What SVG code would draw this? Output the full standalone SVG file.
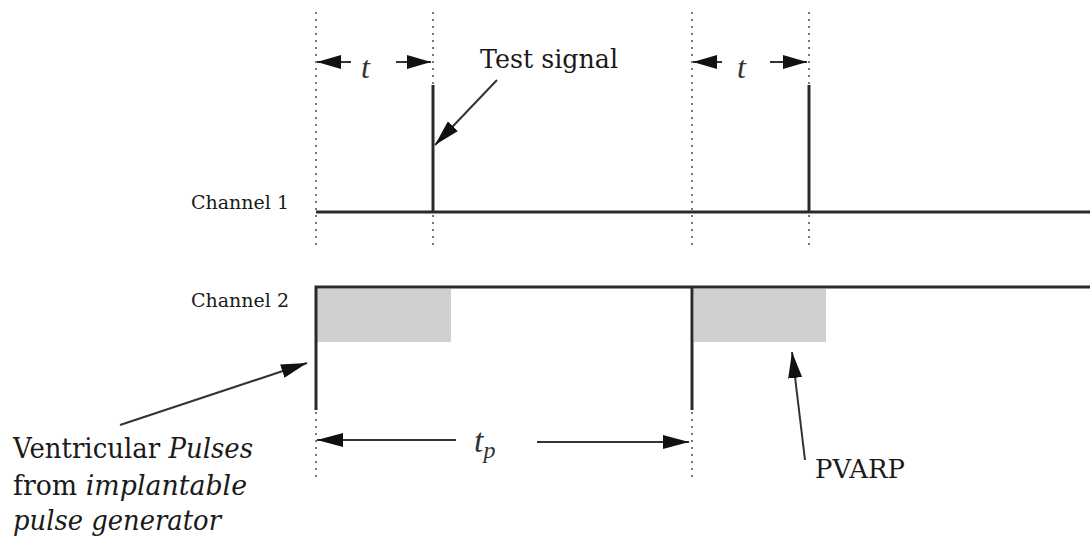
<svg xmlns="http://www.w3.org/2000/svg" width="1090" height="540" viewBox="0 0 1090 540">
<defs>
<style>
.dot{stroke:#777;stroke-width:2;stroke-dasharray:2 5;fill:none}
.sig{stroke:#2a2a2a;stroke-width:3;fill:none}
.arr{stroke:#333;stroke-width:2;fill:none}
.shade{fill:#d0d0d2}
.lbl{font-family:"DejaVu Serif","Liberation Serif",serif;fill:#1a1a1a}
.it{font-style:italic}
.tt{font-family:"Liberation Serif","DejaVu Serif",serif;font-style:italic;fill:#333}
</style>
<marker id="ah" viewBox="0 0 26 14" refX="26" refY="7" markerWidth="26" markerHeight="14" markerUnits="userSpaceOnUse" orient="auto">
<path d="M0,0 L26,7 L0,14 z" fill="#111"/>
</marker>
<marker id="aht" viewBox="0 0 24 14" refX="24" refY="7" markerWidth="24" markerHeight="14" markerUnits="userSpaceOnUse" orient="auto">
<path d="M0,0 L24,7 L0,14 z" fill="#111"/>
</marker>
</defs>
<g id="guides">
<line class="dot" x1="316" y1="12" x2="316" y2="250"/>
<line class="dot" x1="433" y1="12" x2="433" y2="250"/>
<line class="dot" x1="692" y1="12" x2="692" y2="250"/>
<line class="dot" x1="809" y1="12" x2="809" y2="250"/>
<line class="dot" x1="316" y1="412" x2="316" y2="482"/>
<line class="dot" x1="692" y1="412" x2="692" y2="482"/>
</g>
<g id="pvarp-shading">
<rect class="shade" x="317" y="289" width="134" height="53"/>
<rect class="shade" x="694" y="289" width="132" height="53"/>
</g>
<g id="channel1">
<text class="lbl" x="191" y="209" font-size="19" textLength="98" lengthAdjust="spacingAndGlyphs">Channel 1</text>
<polyline class="sig" points="316,212 433,212 433,85 433,212 809,212 809,85 809,212 1090,212"/>
</g>
<g id="channel2">
<text class="lbl" x="191" y="307" font-size="19" textLength="98" lengthAdjust="spacingAndGlyphs">Channel 2</text>
<polyline class="sig" points="316,410 316,287 1090,287"/>
<line class="sig" x1="692" y1="287" x2="692" y2="410"/>
</g>
<g id="connectors">
<line class="arr" x1="351" y1="62" x2="317" y2="62" marker-end="url(#aht)" stroke-width="3"/>
<line class="arr" x1="396" y1="62" x2="431" y2="62" marker-end="url(#aht)" stroke-width="3"/>
<line class="arr" x1="722" y1="62" x2="693" y2="62" marker-end="url(#aht)" stroke-width="3"/>
<line class="arr" x1="770" y1="62" x2="807" y2="62" marker-end="url(#aht)" stroke-width="3"/>
<line class="arr" x1="497" y1="80" x2="435" y2="145" marker-end="url(#ah)"/>
<line class="arr" x1="456" y1="440" x2="317" y2="440" marker-end="url(#ah)"/>
<line class="arr" x1="537" y1="442" x2="689" y2="442" marker-end="url(#ah)"/>
<line class="arr" x1="120" y1="425" x2="307" y2="363" marker-end="url(#ah)"/>
<line class="arr" x1="805" y1="460" x2="792" y2="352" marker-end="url(#ah)"/>
</g>
<g id="labels">
<text class="tt" x="361" y="78" font-size="32">t</text>
<text class="tt" x="737" y="78" font-size="32">t</text>
<text class="lbl" x="480" y="68" font-size="26" textLength="138" lengthAdjust="spacingAndGlyphs">Test signal</text>
<text class="tt" x="474" y="452" font-size="34">t<tspan font-size="24" dy="6">p</tspan></text>
<text class="lbl" x="815" y="478" font-size="26" textLength="90" lengthAdjust="spacingAndGlyphs">PVARP</text>
<text class="lbl" x="13" y="458" font-size="27" textLength="240" lengthAdjust="spacingAndGlyphs">Ventricular <tspan class="it">Pulses</tspan></text>
<text class="lbl" x="13" y="495" font-size="27" textLength="234" lengthAdjust="spacingAndGlyphs">from <tspan class="it">implantable</tspan></text>
<text class="lbl it" x="13" y="530" font-size="27" textLength="208" lengthAdjust="spacingAndGlyphs">pulse generator</text>
</g>
</svg>
